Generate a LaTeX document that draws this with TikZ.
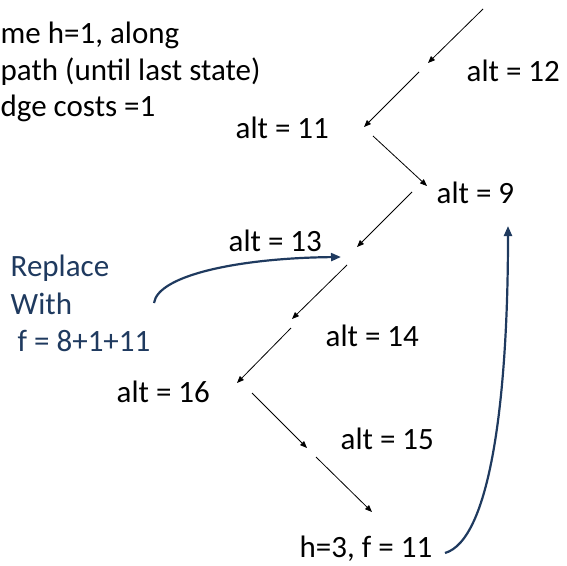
\documentclass[tikz,border=0pt]{standalone}
\usepackage{fontspec}
\setmainfont{Carlito}
\usetikzlibrary{arrows.meta}
\definecolor{navy}{HTML}{1F3A5F}
\begin{document}
\begin{tikzpicture}[x=1pt,y=-1pt,
  lbl/.style={font=\fontsize{31}{37}\selectfont, inner sep=0pt, anchor=base west, text=black},
  note/.style={lbl, text=navy},
  thinarrow/.style={-{Triangle[length=7pt,width=5.5pt]}, line width=0.8pt, black},
  bluearrow/.style={-{Triangle[length=10pt,width=8pt]}, line width=2.2pt, navy}]
\useasboundingbox (0,0) rectangle (567,565);
\clip (0,0) rectangle (567,565);
% heading text (at the left edge)
\node[lbl] (t1) at (0.5,43) {me h=1, along};
\node[lbl] (t2) at (0.5,80) {path (until last state)};
\node[lbl] (t3) at (0.5,116) {dge costs =1};
% labels
\node[lbl] (a12) at (466.5,81) {alt = 12};
\node[lbl] (a11) at (235.5,138) {alt = 11};
\node[lbl] (a9) at (436.5,203) {alt = 9};
\node[lbl] (a13) at (228.5,251) {alt = 13};
\node[lbl] (a14) at (325.5,346) {alt = 14};
\node[lbl] (a16) at (116.5,402) {alt = 16};
\node[lbl] (a15) at (340.5,449) {alt = 15};
\node[lbl] (hf) at (299.5,557) {h=3, f = 11};
\node[note] (rep) at (10.5,276) {Replace};
\node[note] (with) at (10.5,314) {With};
\node[note] (fv) at (17.5,351) {f = 8+1+11};
% arrow end points
\coordinate (s1) at (483,9);   \coordinate (e1) at (428,63);
\coordinate (s2) at (419,72);  \coordinate (e2) at (364,127);
\coordinate (s3) at (373,136); \coordinate (e3) at (427,186);
\coordinate (s4) at (412,192); \coordinate (e4) at (357,247);
\coordinate (s5) at (347,265); \coordinate (e5) at (292,319);
\coordinate (s6) at (291,328); \coordinate (e6) at (237,383);
\coordinate (s7) at (252,393); \coordinate (e7) at (307,448);
\coordinate (s8) at (316,457); \coordinate (e8) at (372,512);
\foreach \i in {1,...,8} \draw[thinarrow] (s\i) -- (e\i);
% blue curved arrows
\coordinate (ra) at (154,303); \coordinate (rb) at (341,257);
\draw[bluearrow] (ra) .. controls (158,275) and (240,258) .. (rb);
\coordinate (ha) at (445,553); \coordinate (hb) at (508,226);
\draw[bluearrow] (ha) .. controls (490,540) and (508,400) .. (hb);
\end{tikzpicture}
\end{document}
